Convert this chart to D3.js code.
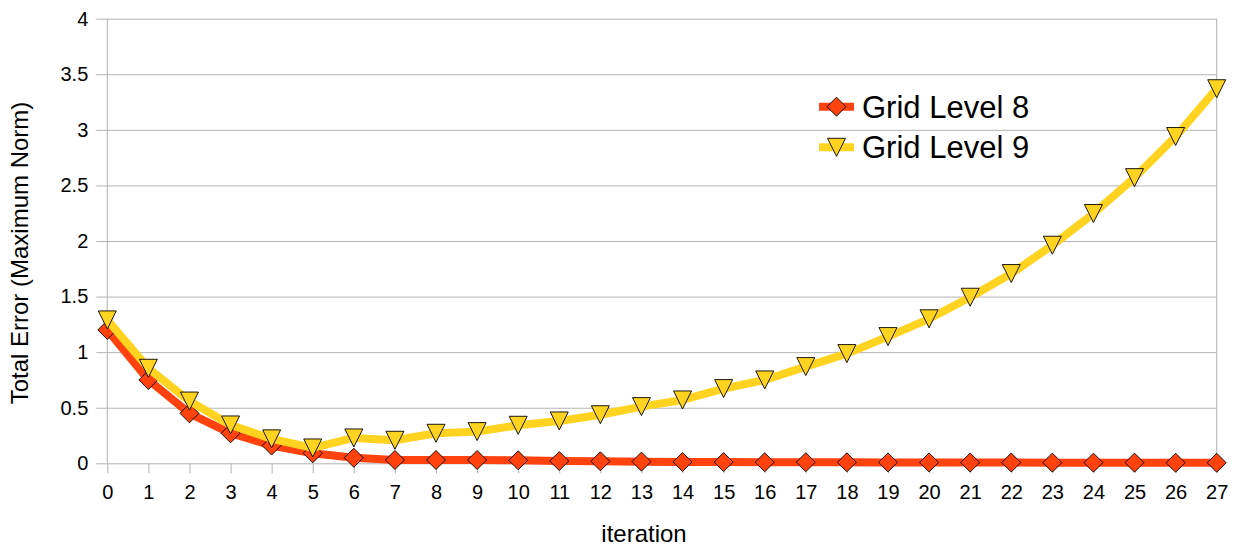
<!DOCTYPE html>
<html><head><meta charset="utf-8">
<script src="https://cdn.jsdelivr.net/npm/d3@7"></script>
<style>html,body{margin:0;padding:0;background:#fff;} svg{display:block;font-family:"Liberation Sans",Arial,sans-serif;}</style>
</head><body>
<svg id="chart" width="1237" height="546"></svg>
<script>
const iterations = d3.range(0, 28);
const seriesNames = ["Grid Level 8", "Grid Level 9"];
const gridLevel8 = [1.20, 0.75, 0.45, 0.27, 0.16, 0.09, 0.05, 0.03, 0.03, 0.03, 0.027, 0.02, 0.018, 0.015, 0.012, 0.011, 0.01, 0.01, 0.009, 0.008, 0.008, 0.007, 0.007, 0.006, 0.006, 0.006, 0.005, 0.005];
const gridLevel9 = [1.29, 0.855, 0.56, 0.345, 0.22, 0.138, 0.228, 0.207, 0.27, 0.285, 0.342, 0.381, 0.437, 0.51, 0.57, 0.672, 0.75, 0.87, 0.987, 1.14, 1.30, 1.494, 1.707, 1.962, 2.247, 2.57, 2.94, 3.37];
const yTicks = [0, 0.5, 1, 1.5, 2, 2.5, 3, 3.5, 4];
const xTitle = "iteration";
const yTitle = "Total Error (Maximum Norm)";

const svg = d3.select("#chart");
const pL = 107.3, pR = 1216.7, pT = 18.7, pB = 463.3;
const x = d3.scaleLinear().domain([0, 27]).range([pL, pR]);
const y = d3.scaleLinear().domain([0, 4]).range([pB, pT]);
const gridColor = "#b3b3b3";
const colors = ["#ff420e", "#ffd320"];

// gridlines + y ticks
const yAxis = d3.axisLeft(y).tickValues(yTicks).tickSize(11).tickPadding(8).tickFormat(d3.format("~g"));
const gy = svg.append("g").attr("transform", `translate(${pL},0)`).call(yAxis);
gy.select(".domain").remove();
gy.selectAll(".tick line").attr("stroke", gridColor).attr("x2", -11).attr("x1", pR - pL);
gy.selectAll(".tick text").attr("font-size", 20).attr("fill", "#000").attr("font-family", "Liberation Sans, Arial, sans-serif");

// x axis
const xAxis = d3.axisBottom(x).tickValues(iterations).tickSize(10).tickPadding(12).tickFormat(d3.format("d"));
const gx = svg.append("g").attr("transform", `translate(0,${pB})`).call(xAxis);
gx.select(".domain").remove();
gx.selectAll(".tick line").attr("stroke", gridColor);
gx.selectAll(".tick text").attr("font-size", 20).attr("fill", "#000").attr("font-family", "Liberation Sans, Arial, sans-serif");

// plot borders (left + right)
svg.append("line").attr("x1", pL).attr("x2", pL).attr("y1", pT).attr("y2", pB).attr("stroke", gridColor);
svg.append("line").attr("x1", pR).attr("x2", pR).attr("y1", pT).attr("y2", pB).attr("stroke", gridColor);

function diamondPath(r) { return `M0,${-r}L${r},0L0,${r}L${-r},0Z`; }
function triPath(r) { return `M${-r},${-r}L${r},${-r}L0,${r}Z`; }
const markers = [diamondPath(9.5), triPath(9)];

const line = d3.line().x((d, i) => x(iterations[i])).y(d => y(d));
[gridLevel8, gridLevel9].forEach((vals, k) => {
  svg.append("path").datum(vals).attr("d", line).attr("fill", "none")
    .attr("stroke", colors[k]).attr("stroke-width", 8).attr("stroke-linejoin", "round");
  svg.append("g").selectAll("path").data(vals).join("path")
    .attr("transform", (d, i) => `translate(${x(iterations[i])},${y(d)})`)
    .attr("d", markers[k]).attr("fill", colors[k]).attr("stroke", "#000").attr("stroke-width", 0.9);
});

// legend
const legY = [106.7, 147.3];
seriesNames.forEach((name, k) => {
  const g = svg.append("g").attr("transform", `translate(0,${legY[k]})`);
  g.append("line").attr("x1", 819).attr("x2", 854).attr("y1", 0).attr("y2", 0)
    .attr("stroke", colors[k]).attr("stroke-width", 8);
  g.append("path").attr("transform", "translate(836.5,0)").attr("d", markers[k])
    .attr("fill", colors[k]).attr("stroke", "#000").attr("stroke-width", 0.9);
  g.append("text").attr("x", 862).attr("y", 11).attr("font-size", 31).attr("fill", "#000").text(name);
});

// titles
svg.append("text").attr("x", 644).attr("y", 542).attr("text-anchor", "middle").attr("font-size", 24).text(xTitle);
svg.append("text").attr("transform", "translate(28,253) rotate(-90)").attr("text-anchor", "middle").attr("font-size", 24).text(yTitle);
</script>
</body></html>
